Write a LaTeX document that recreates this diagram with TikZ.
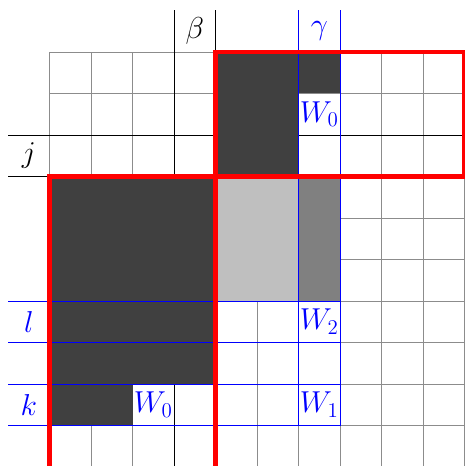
\documentclass[tikz,border=0pt]{standalone}
\begin{document}
\begin{tikzpicture}[
  gridline/.style={draw=black!45, line width=0.5pt},
  darkline/.style={draw=black, line width=0.6pt},
  blueline/.style={draw=blue, line width=0.6pt},
  redline/.style={draw=red, line width=3pt, line join=miter},
  darkfill/.style={fill=black!75},
  lbl/.style={font=\huge, inner sep=0pt},
  bl/.style={lbl, text=blue},
]
\useasboundingbox (-1.193,-9.976) rectangle (10.0,1.253);
% grid
\draw[gridline] (0,0) grid (10,-10);
% black index lines
\draw[darkline] (-1,-2) -- (10,-2);
\draw[darkline] (-1,-3) -- (0,-3);
\draw[darkline] (3,1) -- (3,-10);
\draw[darkline] (4,1) -- (4,0);
% fills
\fill[darkfill] (4,0) rectangle (6,-3);
\fill[darkfill] (6,0) rectangle (7,-1);
\fill[darkfill] (0,-3) rectangle (4,-8);
\fill[darkfill] (0,-8) rectangle (2,-9);
\fill[black!25] (4,-3) rectangle (6,-6);
\fill[black!50] (6,-3) rectangle (7,-6);
% blue lines
\foreach \yy in {6,7,8,9} \draw[blueline] (-1,-\yy) -- (7,-\yy);
\draw[blueline] (6,1) -- (6,-9);
\draw[blueline] (7,1) -- (7,-9);
% red boxes
\draw[redline] (4,0) rectangle (10,-3);
\draw[redline] (0,-10.3) -- (0,-3) -- (4,-3) -- (4,-10.3);
% labels
\node[lbl] (beta) at (3.5,0.5) {$\beta$};
\node[bl] (gamma) at (6.5,0.5) {$\gamma$};
\node[lbl] (jl) at (-0.5,-2.5) {$j$};
\node[bl] (ll) at (-0.5,-6.5) {$l$};
\node[bl] (kl) at (-0.5,-8.5) {$k$};
\node[bl] (w0a) at (6.5,-1.5) {$W_0$};
\node[bl] (w0b) at (2.5,-8.5) {$W_0$};
\node[bl] (w2) at (6.5,-6.5) {$W_2$};
\node[bl] (w1) at (6.5,-8.5) {$W_1$};
\end{tikzpicture}
\end{document}
